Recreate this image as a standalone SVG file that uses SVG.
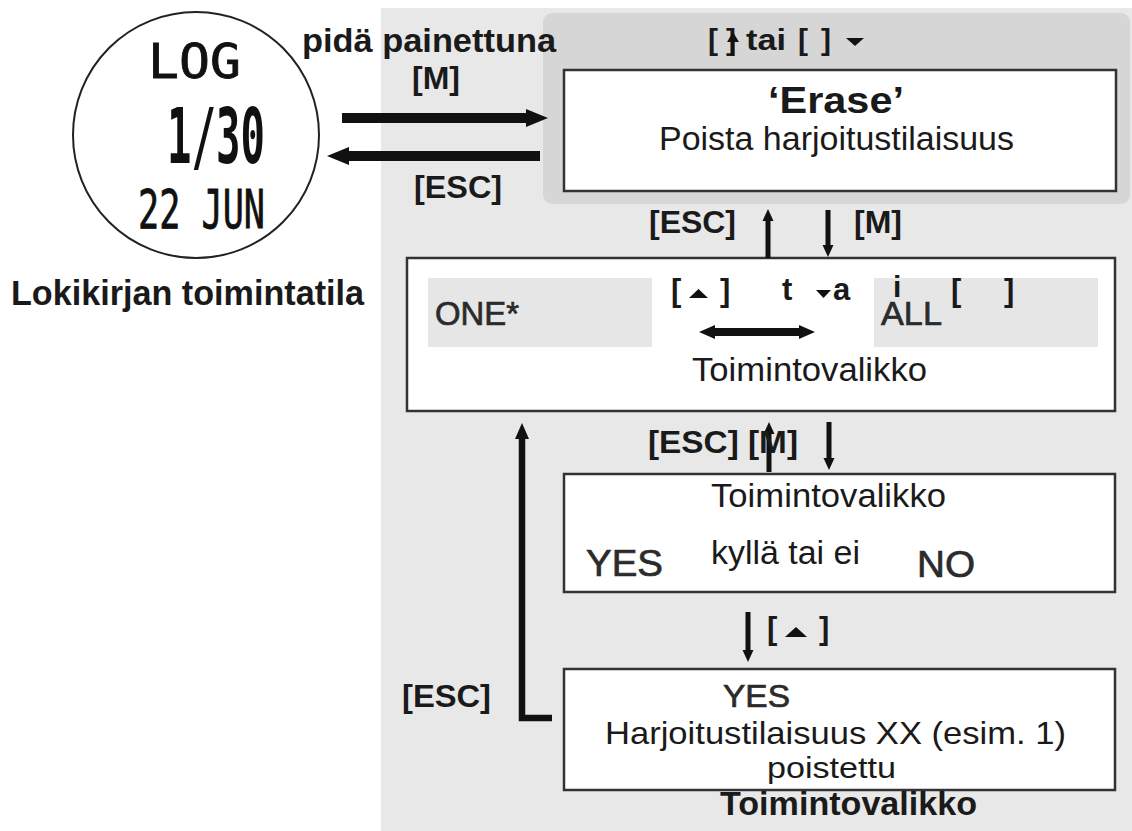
<svg xmlns="http://www.w3.org/2000/svg" width="1132" height="831" viewBox="0 0 1132 831">
<style>
.b{font-family:"Liberation Sans",Arial,sans-serif;font-weight:bold;fill:#1a1a1a}
.r{font-family:"Liberation Sans",Arial,sans-serif;fill:#1a1a1a}
.lcd{font-family:"DejaVu Sans Mono","Liberation Mono",monospace;fill:#111}
.soft{fill:#2b2b2b;stroke:#2b2b2b;stroke-width:0.7}
.box{fill:#fff;stroke:#333;stroke-width:2.5}
.gbox{fill:#e6e6e6}
.ln{stroke:#111;fill:none}
</style>
<defs>
<marker id="hBig" markerUnits="userSpaceOnUse" viewBox="0 0 22 20" refX="1" refY="10" markerWidth="22" markerHeight="20" orient="auto-start-reverse">
<path d="M0,1 L22,10 L0,19 z" fill="#111"/>
</marker>
<marker id="hSm" markerUnits="userSpaceOnUse" viewBox="0 0 12 12" refX="1" refY="6" markerWidth="12" markerHeight="12" orient="auto-start-reverse">
<path d="M0,0.5 L12,6 L0,11.5 z" fill="#111"/>
</marker>
<marker id="hMid" markerUnits="userSpaceOnUse" viewBox="0 0 16 16" refX="1" refY="8" markerWidth="16" markerHeight="16" orient="auto-start-reverse">
<path d="M0,1 L16,8 L0,15 z" fill="#111"/>
</marker>
</defs>
<rect width="1132" height="831" fill="#fff"/>
<rect id="panel" x="381" y="8" width="751" height="823" fill="#e8e8e8"/>
<rect id="panel-top" x="543" y="13" width="587" height="191" rx="9" fill="#d6d6d6"/>

<g id="log-mode">
<circle cx="196" cy="135" r="123" fill="#fff" stroke="#222" stroke-width="2"/>
<text class="lcd" x="148" y="78" font-size="48" stroke="#111" stroke-width="0.8" textLength="93" lengthAdjust="spacingAndGlyphs">LOG</text>
<text class="lcd" x="167" y="163" font-size="76" font-weight="bold" textLength="98" lengthAdjust="spacingAndGlyphs">1/30</text>
<text class="lcd" x="138" y="228" font-size="54" stroke="#111" stroke-width="0.8" textLength="127" lengthAdjust="spacingAndGlyphs">22 JUN</text>
<text class="b" x="11" y="305" font-size="35" textLength="353" lengthAdjust="spacingAndGlyphs">Lokikirjan toimintatila</text>
</g>

<g id="erase">
<rect class="box" x="564" y="70" width="552" height="121"/>
<text class="b" x="768" y="113" font-size="37" textLength="136" lengthAdjust="spacingAndGlyphs">‘Erase’</text>
<text class="r" x="659" y="150" font-size="34" textLength="355" lengthAdjust="spacingAndGlyphs">Poista harjoitustilaisuus</text>
</g>

<g id="menu-one-all">
<rect class="box" x="407" y="258" width="708" height="153"/>
<rect class="gbox" x="428" y="278" width="224" height="69"/>
<rect class="gbox" x="874" y="278" width="224" height="69"/>
<text class="r soft" x="435" y="325" font-size="33" textLength="84" lengthAdjust="spacingAndGlyphs">ONE*</text>
<text class="r soft" x="881" y="325" font-size="34" textLength="61" lengthAdjust="spacingAndGlyphs">ALL</text>
<text class="r" x="692" y="381" font-size="33" textLength="235" lengthAdjust="spacingAndGlyphs">Toimintovalikko</text>
</g>

<g id="confirm">
<rect class="box" x="564" y="474" width="551" height="118"/>
<text class="r" x="711" y="507" font-size="33" textLength="235" lengthAdjust="spacingAndGlyphs">Toimintovalikko</text>
<text class="r soft" x="586" y="576" font-size="37" textLength="77" lengthAdjust="spacingAndGlyphs">YES</text>
<text class="r" x="711" y="564" font-size="33" textLength="149" lengthAdjust="spacingAndGlyphs">kyllä tai ei</text>
<text class="r soft" x="917" y="577" font-size="37" textLength="58" lengthAdjust="spacingAndGlyphs">NO</text>
</g>

<g id="deleted">
<rect class="box" x="564" y="669" width="551" height="121"/>
<text class="r soft" x="723" y="707" font-size="32" textLength="67" lengthAdjust="spacingAndGlyphs">YES</text>
<text class="r" x="605" y="744" font-size="32" textLength="461" lengthAdjust="spacingAndGlyphs">Harjoitustilaisuus XX (esim. 1)</text>
<text class="r" x="767" y="778" font-size="29" textLength="129" lengthAdjust="spacingAndGlyphs">poistettu</text>
<text class="b" x="720" y="815" font-size="33" textLength="257" lengthAdjust="spacingAndGlyphs">Toimintovalikko</text>
</g>

<g id="connectors">
<line class="ln" x1="342" y1="118" x2="527" y2="118" stroke-width="10" marker-end="url(#hBig)"/>
<line class="ln" x1="540" y1="156" x2="348" y2="156" stroke-width="10" marker-end="url(#hBig)"/>
<line class="ln" x1="768" y1="258" x2="768" y2="220" stroke-width="5" marker-end="url(#hSm)"/>
<line class="ln" x1="828" y1="210" x2="828" y2="246" stroke-width="5" marker-end="url(#hSm)"/>
<line class="ln" x1="769" y1="472" x2="769" y2="433" stroke-width="5" marker-end="url(#hSm)"/>
<line class="ln" x1="829" y1="422" x2="829" y2="459" stroke-width="5" marker-end="url(#hSm)"/>
<line class="ln" x1="748" y1="612" x2="748" y2="651" stroke-width="5" marker-end="url(#hSm)"/>
<path class="ln" d="M552,718 H522 V438" stroke-width="6.5" marker-end="url(#hMid)"/>
<line class="ln" x1="714" y1="332" x2="800" y2="332" stroke-width="8" marker-start="url(#hMid)" marker-end="url(#hMid)"/>
</g>

<g id="labels">
<text class="b" x="302" y="52" font-size="34" textLength="254" lengthAdjust="spacingAndGlyphs">pidä painettuna</text>
<text class="b" x="412" y="89" font-size="31" textLength="48" lengthAdjust="spacingAndGlyphs">[M]</text>
<text class="b" x="414" y="198" font-size="31" textLength="88" lengthAdjust="spacingAndGlyphs">[ESC]</text>

<text class="b" x="708" y="50" font-size="30">[</text>
<text class="b" x="726" y="50" font-size="30">]</text>
<path d="M733,56 V36" stroke="#111" stroke-width="3"/>
<polygon points="727,42 739,42 733,32" fill="#111"/>
<text class="b" x="746" y="50" font-size="30" textLength="40" lengthAdjust="spacingAndGlyphs">tai</text>
<text class="b" x="798" y="50" font-size="30">[</text>
<text class="b" x="821" y="50" font-size="30">]</text>
<polygon points="846,38 864,38 855,46" fill="#111"/>

<text class="b" x="649" y="233" font-size="31" textLength="87" lengthAdjust="spacingAndGlyphs">[ESC]</text>
<text class="b" x="854" y="233" font-size="31" textLength="48" lengthAdjust="spacingAndGlyphs">[M]</text>

<text class="b" x="671" y="301" font-size="31">[</text>
<polygon points="689,298 708,298 698.5,289" fill="#111"/>
<text class="b" x="720" y="301" font-size="31">]</text>
<text class="b" x="782" y="300" font-size="31">t</text>
<polygon points="816,290 831,290 823.5,298" fill="#111"/>
<text class="b" x="833" y="300" font-size="31">a</text>
<text class="b" x="893" y="297" font-size="30">i</text>
<text class="b" x="951" y="301" font-size="31">[</text>
<text class="b" x="1004" y="301" font-size="31">]</text>

<text class="b" x="648" y="453" font-size="31" textLength="150" lengthAdjust="spacingAndGlyphs">[ESC] [M]</text>

<text class="b" x="767" y="639" font-size="31">[</text>
<polygon points="785,637 807,637 796,627" fill="#111"/>
<text class="b" x="819" y="639" font-size="31">]</text>

<text class="b" x="402" y="707" font-size="31" textLength="89" lengthAdjust="spacingAndGlyphs">[ESC]</text>
</g>
</svg>
